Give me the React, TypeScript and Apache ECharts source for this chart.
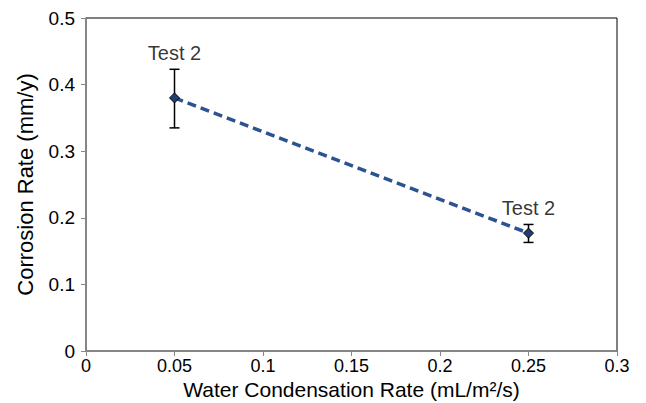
import React, { useEffect, useRef } from "react";
import * as echarts from "echarts";

const xValues = [0.05, 0.25];
const yValues = [0.38, 0.177];
const errLow = [0.335, 0.163];
const errHigh = [0.423, 0.19];
const pointLabels = ["Test 2", "Test 2"];
const xTicks = [0, 0.05, 0.1, 0.15, 0.2, 0.25, 0.3];
const yTicks = [0, 0.1, 0.2, 0.3, 0.4, 0.5];

export default function App() {
  const ref = useRef<HTMLDivElement>(null);
  useEffect(() => {
    const chart = echarts.init(ref.current!, null, { renderer: "svg" });
    const font = "Liberation Sans, Arial, Helvetica, sans-serif";
    const fmt = (v: number) => String(Number(v.toFixed(2)));
    chart.setOption({
      animation: false,
      textStyle: { fontFamily: font },
      grid: {
        left: 86,
        right: 29,
        top: 18,
        bottom: 52,
        containLabel: false,
        outerBoundsMode: "none",
        show: true,
        borderColor: "#000",
        borderWidth: 1,
      },
      xAxis: {
        type: "value",
        min: xTicks[0],
        max: xTicks[xTicks.length - 1],
        interval: 0.05,
        name: "Water Condensation Rate (mL/m²/s)",
        nameLocation: "middle",
        nameGap: 28,
        nameMoveOverlap: false,
        nameTextStyle: { fontSize: 21, color: "#000", fontFamily: font },
        axisLine: { show: true, lineStyle: { color: "#888", width: 1.5 } },
        axisTick: { show: true, length: 5, lineStyle: { color: "#888" } },
        axisLabel: { fontSize: 18, color: "#000", margin: 6, formatter: fmt },
        splitLine: { show: false },
      },
      yAxis: {
        type: "value",
        min: yTicks[0],
        max: yTicks[yTicks.length - 1],
        interval: 0.1,
        name: "Corrosion Rate (mm/y)",
        nameLocation: "middle",
        nameGap: 50,
        nameMoveOverlap: false,
        nameTextStyle: { fontSize: 22, color: "#000", fontFamily: font },
        axisLine: { show: true, lineStyle: { color: "#888", width: 1.5 } },
        axisTick: { show: true, length: 5, lineStyle: { color: "#888" } },
        axisLabel: { fontSize: 19, color: "#000", margin: 11, formatter: fmt },
        splitLine: { show: false },
      },
      series: [
        {
          type: "custom",
          z: 3,
          renderItem: (params: any, api: any) => {
            const x = api.value(0);
            const lo = api.coord([x, api.value(1)]);
            const hi = api.coord([x, api.value(2)]);
            const w = 5;
            const style = { stroke: "#000", lineWidth: 1.5 };
            return {
              type: "group",
              children: [
                { type: "line", shape: { x1: lo[0], y1: lo[1], x2: hi[0], y2: hi[1] }, style },
                { type: "line", shape: { x1: lo[0] - w, y1: lo[1], x2: lo[0] + w, y2: lo[1] }, style },
                { type: "line", shape: { x1: hi[0] - w, y1: hi[1], x2: hi[0] + w, y2: hi[1] }, style },
              ],
            };
          },
          data: xValues.map((x, i) => [x, errLow[i], errHigh[i]]),
        },
        {
          type: "line",
          z: 4,
          data: xValues.map((x, i) => [x, yValues[i]]),
          lineStyle: { color: "#2b5291", width: 3.5, type: [9, 5] },
          symbol: "diamond",
          symbolSize: 10,
          itemStyle: { color: "#1f3f73", borderColor: "#000", borderWidth: 1 },
        },
        {
          type: "scatter",
          z: 5,
          symbolSize: 0,
          silent: true,
          data: xValues.map((x, i) => ({
            value: [x, errHigh[i]],
            label: {
              show: true,
              formatter: pointLabels[i],
              position: "top",
              distance: 6,
              fontSize: 20,
              color: "#000",
              fontFamily: font,
            },
          })),
        },
      ],
    });
    return () => chart.dispose();
  }, []);
  return <div ref={ref} style={{ width: 646, height: 403, position: "absolute", left: 0, top: 0, background: "#fff" }} />;
}
